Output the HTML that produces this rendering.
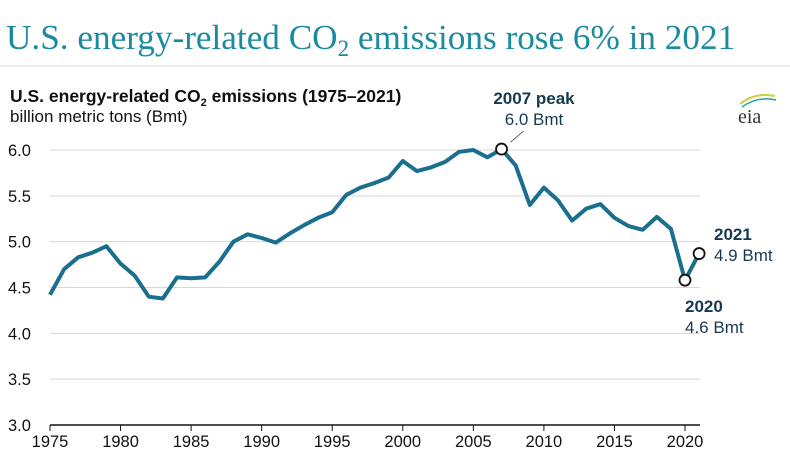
<!DOCTYPE html>
<html><head><meta charset="utf-8"><style>
body{margin:0;background:#fff;width:790px;height:460px;overflow:hidden}
svg text{font-family:"Liberation Sans",sans-serif}
</style></head><body>
<svg width="790" height="460">
<text x="6" y="49" style="font-family:'Liberation Serif',serif;font-size:35.2px;fill:#1b8ba0">U.S. energy-related CO<tspan font-size="23" dy="7">2</tspan><tspan dy="-7"> emissions rose 6% in 2021</tspan></text>
<line x1="0" y1="66" x2="790" y2="66" stroke="#ddd" stroke-width="1"/>
<text x="10" y="102" font-size="17.5" font-weight="bold" fill="#111">U.S. energy-related CO<tspan font-size="11" dy="4">2</tspan><tspan dy="-4"> emissions (1975–2021)</tspan></text>
<text x="10" y="122" font-size="17" fill="#111">billion metric tons (Bmt)</text>
<g>
<path d="M740 104 Q755 92 775 96" stroke="#c8d23a" stroke-width="2" fill="none"/>
<path d="M742 107 Q757 96 776 100" stroke="#2a9bb0" stroke-width="1.5" fill="none"/>
<text x="738" y="123" font-size="20" fill="#333" style="font-family:'Liberation Serif',serif">eia</text>
</g>
<g id="grid"></g><g id="axes"></g><g id="series"></g><g id="notes"></g>
</svg>
<script>
const years=[1975,1976,1977,1978,1979,1980,1981,1982,1983,1984,1985,1986,1987,1988,1989,1990,1991,1992,1993,1994,1995,1996,1997,1998,1999,2000,2001,2002,2003,2004,2005,2006,2007,2008,2009,2010,2011,2012,2013,2014,2015,2016,2017,2018,2019,2020,2021];
const emissions=[4.42,4.70,4.83,4.88,4.95,4.76,4.63,4.40,4.38,4.61,4.60,4.61,4.78,5.00,5.08,5.04,4.99,5.09,5.18,5.26,5.32,5.51,5.59,5.64,5.70,5.88,5.77,5.81,5.87,5.98,6.00,5.92,6.01,5.83,5.40,5.59,5.45,5.23,5.36,5.41,5.26,5.17,5.13,5.27,5.14,4.58,4.87];
const yTicks=[3.0,3.5,4.0,4.5,5.0,5.5,6.0];
const xTicks=[1975,1980,1985,1990,1995,2000,2005,2010,2015,2020];
const NS="http://www.w3.org/2000/svg";
const X=y=>50+(y-1975)*(635/45);
const Y=v=>425-(v-3)*(275/3);
function mk(tag,attrs,parent,txt){const e=document.createElementNS(NS,tag);for(const k in attrs)e.setAttribute(k,attrs[k]);if(txt!==undefined)e.textContent=txt;document.getElementById(parent).appendChild(e);return e;}
yTicks.forEach(v=>{
 if(v>3){const g=mk('line',{x1:50,x2:700,y1:Y(v),y2:Y(v),stroke:'#d6d6d6','stroke-width':1},'grid');
 
 }
 const t=mk('text',{x:8,y:Y(v)+6,'font-size':16.5,fill:'#111'},'axes',v.toFixed(1));
 
 
});
const ax=mk('line',{x1:50,x2:700,y1:425,y2:425,stroke:'#111','stroke-width':1.5},'axes');


xTicks.forEach(yr=>{
 const tk=mk('line',{x1:X(yr),x2:X(yr),y1:425,y2:431,stroke:'#111','stroke-width':1},'axes');
 
 
 const t=mk('text',{x:X(yr),y:447,'font-size':16.5,fill:'#111','text-anchor':'middle'},'axes',String(yr));
 
 
});
const d=years.map((yr,i)=>(i?'L':'M')+X(yr).toFixed(1)+' '+Y(emissions[i]).toFixed(1)).join(' ');
const p=mk('path',{d:d,fill:'none',stroke:'#1a6f8e','stroke-width':4,'stroke-linejoin':'round'},'series');


const noteYears=[2007,2020,2021];
noteYears.forEach(yr=>{
 const i=years.indexOf(yr);
 const c=mk('circle',{cx:X(yr),cy:Y(emissions[i]),r:5.5,fill:'#fff',stroke:'#111','stroke-width':1.8},'series');
 
 
});
const pk=years.indexOf(2007),px=X(2007),py=Y(emissions[pk]);
const ld=mk('line',{x1:px+9,y1:py-7,x2:px+22,y2:py-18,stroke:'#666','stroke-width':1},'notes');


function note(x,y,a,b,name,anchor){
 const t1=mk('text',{x:x,y:y,'font-size':17,'font-weight':'bold',fill:'#17394f','text-anchor':anchor},'notes',a);
 
 
 const t2=mk('text',{x:x,y:y+21,'font-size':17,fill:'#17394f','text-anchor':anchor},'notes',b);
 
 
}
note(534,104,'2007 peak','6.0 Bmt','peak-2007','middle');
note(714,240,'2021','4.9 Bmt','note-2021','start');
note(685,312,'2020','4.6 Bmt','note-2020','start');
</script>
</body></html>
